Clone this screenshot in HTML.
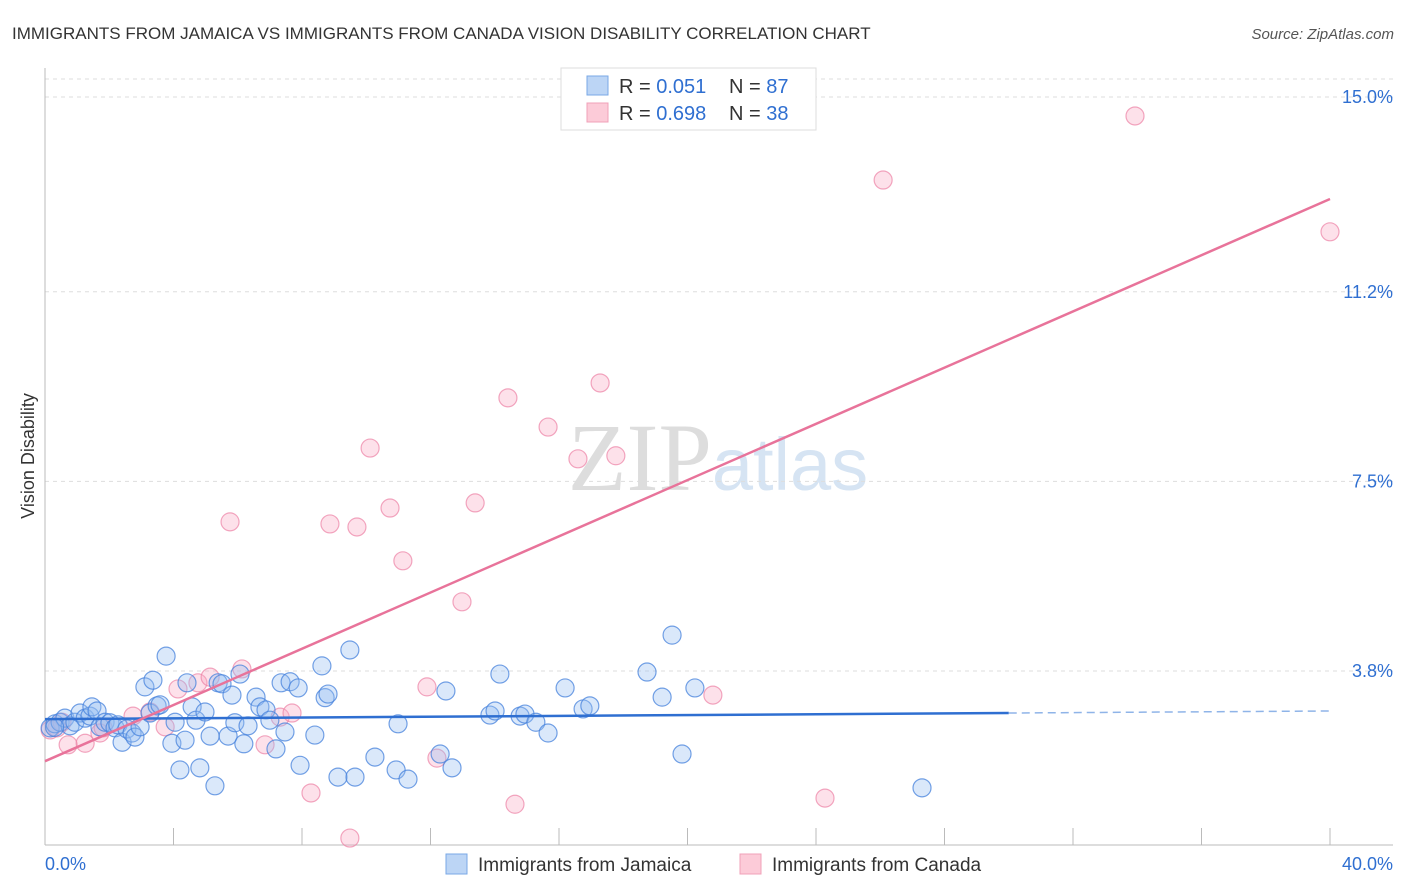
<!DOCTYPE html>
<html><head><meta charset="utf-8"><style>
body{margin:0;background:#fff;font-family:"Liberation Sans",sans-serif;}
svg{display:block}
</style></head><body>
<svg id="chart" width="1406" height="892">
<text x="12" y="39" font-size="17" fill="#333">IMMIGRANTS FROM JAMAICA VS IMMIGRANTS FROM CANADA VISION DISABILITY CORRELATION CHART</text>
<text x="1394" y="39" font-size="15" fill="#555" font-style="italic" text-anchor="end">Source: ZipAtlas.com</text>
<text x="718" y="490" font-size="96" fill="#ddd" text-anchor="middle" font-family="Liberation Serif">ZIP<tspan fill="#d6e4f3" font-family="Liberation Sans" font-size="74">atlas</tspan></text>
<text transform="translate(34,456) rotate(-90)" font-size="18" fill="#333" text-anchor="middle">Vision Disability</text>
<g id="grid"></g><g id="axes"></g><g id="pts"></g><g id="trend"></g>
<g>
<rect x="561" y="68" width="255" height="62" fill="#fff" stroke="#ddd"/>
<rect x="587" y="76" width="21" height="19" fill="#bcd5f5" stroke="#7aa8e6"/>
<rect x="587" y="103" width="21" height="19" fill="#fccbd8" stroke="#f0a0b8"/>
<text x="619" y="93" font-size="20" fill="#333">R = <tspan fill="#2f6fd1">0.051</tspan></text>
<text x="729" y="93" font-size="20" fill="#333">N = <tspan fill="#2f6fd1">87</tspan></text>
<text x="619" y="120" font-size="20" fill="#333">R = <tspan fill="#2f6fd1">0.698</tspan></text>
<text x="729" y="120" font-size="20" fill="#333">N = <tspan fill="#2f6fd1">38</tspan></text>
</g>
<g>
<rect x="446" y="854" width="21" height="20" fill="#bcd5f5" stroke="#7aa8e6"/>
<text x="478" y="871" font-size="19" fill="#333">Immigrants from Jamaica</text>
<rect x="740" y="854" width="21" height="20" fill="#fccbd8" stroke="#f0a0b8"/>
<text x="772" y="871" font-size="19" fill="#333">Immigrants from Canada</text>
</g>
</svg>
<script>
const yTicks=[15.0,11.2,7.5,3.8];
const yTickLabels=["15.0%","11.2%","7.5%","3.8%"];
const xTickVals=[0,4,8,12,16,20,24,28,32,36,40];
const xLabels=["0.0%","40.0%"];
const jamX=[0.16,0.31,0.47,0.62,0.78,0.93,1.09,1.25,1.40,1.46,1.62,1.71,1.87,2.02,2.18,2.27,2.40,2.55,2.71,2.80,2.96,3.11,3.27,3.36,3.49,3.58,3.77,3.95,4.05,4.20,4.36,4.42,4.58,4.70,4.82,4.98,5.14,5.29,5.39,5.51,5.70,5.82,5.91,6.07,6.19,6.32,6.57,6.69,6.88,7.00,7.19,7.35,7.47,7.63,7.88,7.94,8.40,8.62,8.72,8.81,9.12,9.49,9.65,10.27,10.93,10.99,11.30,12.30,12.48,12.67,13.85,14.01,14.16,14.79,14.94,15.28,15.66,16.19,16.75,16.96,18.74,19.21,19.52,19.83,20.23,27.30,0.3];
const jamY=[2.69,2.77,2.80,2.88,2.73,2.80,2.98,2.88,2.92,3.10,3.02,2.71,2.80,2.79,2.69,2.75,2.41,2.67,2.59,2.51,2.71,3.49,2.98,3.62,3.12,3.14,4.09,2.39,2.80,1.87,2.45,3.57,3.10,2.84,1.91,3.00,2.53,1.56,3.57,3.55,2.53,3.33,2.79,3.74,2.38,2.73,3.29,3.10,3.04,2.84,2.28,3.57,2.61,3.59,3.47,1.96,2.55,3.90,3.28,3.35,1.73,4.21,1.73,2.12,1.87,2.77,1.69,2.18,3.41,1.91,2.94,3.02,3.74,2.92,2.96,2.80,2.59,3.47,3.06,3.12,3.78,3.29,4.50,2.18,3.47,1.52,2.70];
const canX=[0.16,0.37,0.53,0.72,1.25,1.71,1.81,2.74,3.27,3.74,4.14,4.76,5.14,5.76,6.13,6.85,7.32,7.69,8.28,8.87,9.49,9.71,10.12,10.74,11.14,11.89,12.20,12.98,13.39,14.41,14.63,15.66,16.59,17.28,17.77,20.79,24.28,26.09,33.93,40.00];
const canY=[2.65,2.69,2.80,2.36,2.39,2.59,2.69,2.92,3.00,2.71,3.45,3.57,3.68,6.71,3.84,2.36,2.90,2.98,1.42,6.67,0.54,6.61,8.15,6.98,5.95,3.49,2.10,5.15,7.08,9.13,1.20,8.56,7.94,9.42,8.00,3.33,1.32,13.38,14.63,12.37];
const jamTrend=[2.86,3.02];
const canTrend=[2.04,13.01];
const X0=45,X1=1330,Y15=97,PPU=51.25;
const sx=v=>X0+v*(X1-X0)/40;
const sy=v=>Y15+(15-v)*PPU;
const NS="http://www.w3.org/2000/svg";
function mk(tag,attrs,parent){const e=document.createElementNS(NS,tag);for(const k in attrs)e.setAttribute(k,attrs[k]);parent.appendChild(e);return e;}
const grid=document.getElementById('grid'),axes=document.getElementById('axes'),pts=document.getElementById('pts'),tr=document.getElementById('trend');
let g=mk('line',{x1:45,x2:1393,y1:79,y2:79,stroke:'#ddd','stroke-dasharray':'4,4'},grid);


yTicks.forEach((t,i)=>{
 const l=mk('line',{x1:45,x2:1393,y1:sy(t),y2:sy(t),stroke:'#ddd','stroke-dasharray':'4,4'},grid);
 
 
 const tx=mk('text',{x:1393,y:sy(t)+6,'font-size':18,fill:'#2f6fd1','text-anchor':'end'},grid);
 tx.textContent=yTickLabels[i];
 
 
});
let a=mk('line',{x1:45,x2:45,y1:68,y2:845,stroke:'#bbb'},axes);


a=mk('line',{x1:45,x2:1393,y1:845,y2:845,stroke:'#bbb'},axes);


xTickVals.forEach(v=>{
 const t=mk('line',{x1:sx(v),x2:sx(v),y1:828,y2:845,stroke:'#bbb'},axes);
 
 
});
let xl=mk('text',{x:45,y:870,'font-size':18,fill:'#2f6fd1'},axes);xl.textContent=xLabels[0];


xl=mk('text',{x:1393,y:870,'font-size':18,fill:'#2f6fd1','text-anchor':'end'},axes);xl.textContent=xLabels[1];


canX.forEach((x,i)=>{
 const c=mk('circle',{cx:sx(x),cy:sy(canY[i]),r:9,fill:'rgba(248,170,195,0.35)',stroke:'rgba(236,130,165,0.7)','stroke-width':1.2},pts);
 
 
});
jamX.forEach((x,i)=>{
 const c=mk('circle',{cx:sx(x),cy:sy(jamY[i]),r:9,fill:'rgba(150,190,240,0.35)',stroke:'rgba(70,130,220,0.75)','stroke-width':1.2},pts);
 
 
});
const jy=x=>jamTrend[0]+(jamTrend[1]-jamTrend[0])*x/40;
let l1=mk('line',{x1:sx(0),y1:sy(jy(0)),x2:sx(30),y2:sy(jy(30)),stroke:'#2f6fd1','stroke-width':2.5},tr);


let l2=mk('line',{x1:sx(30),y1:sy(jy(30)),x2:sx(40),y2:sy(jy(40)),stroke:'#8fb4e8','stroke-width':1.5,'stroke-dasharray':'8,5'},tr);


let l3=mk('line',{x1:sx(0),y1:sy(canTrend[0]),x2:sx(40),y2:sy(canTrend[1]),stroke:'#e8739a','stroke-width':2.5},tr);


</script>
</body></html>
